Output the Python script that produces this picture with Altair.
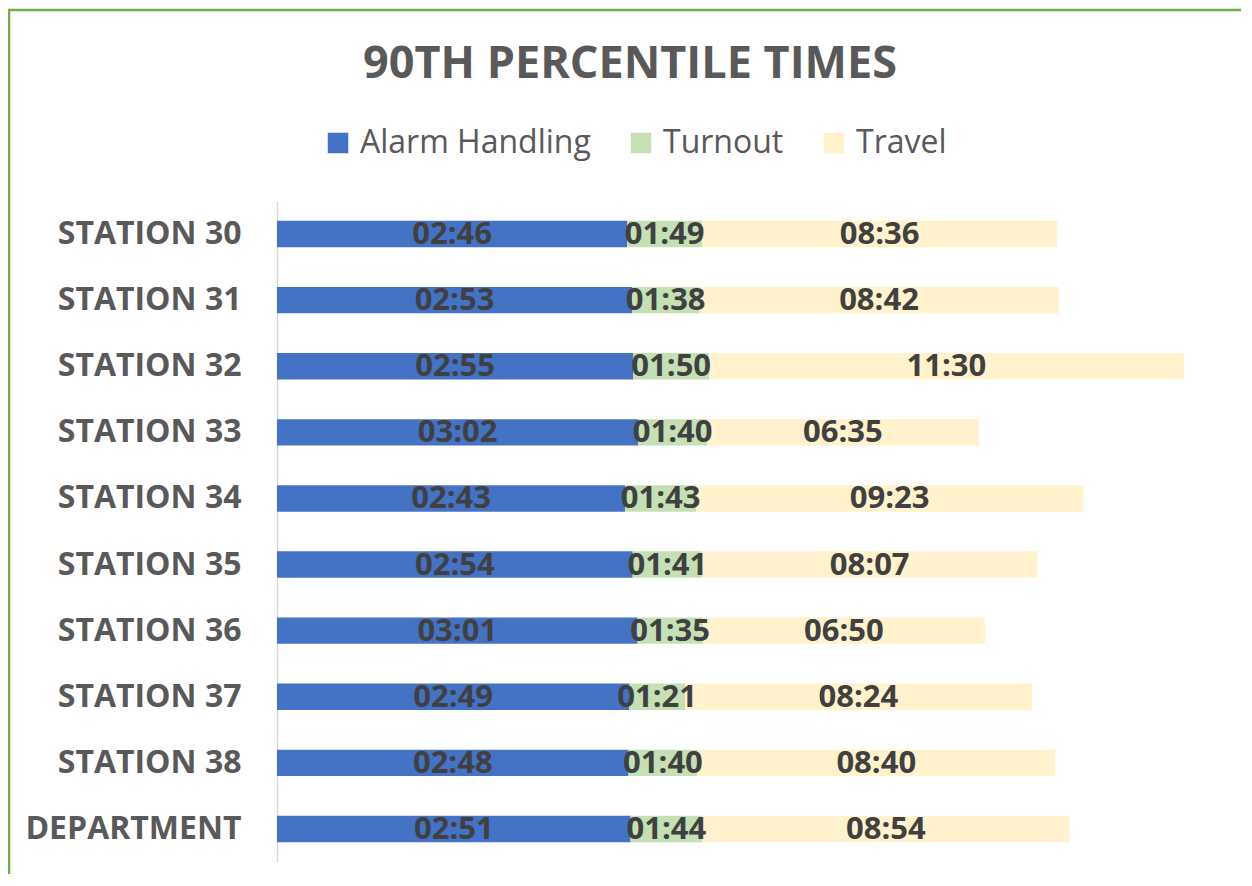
import altair as alt
import pandas as pd

# ---- data ----
title_text = "90TH PERCENTILE TIMES"
stations = ["STATION 30", "STATION 31", "STATION 32", "STATION 33", "STATION 34",
            "STATION 35", "STATION 36", "STATION 37", "STATION 38", "DEPARTMENT"]
alarm_handling = ["02:46", "02:53", "02:55", "03:02", "02:43", "02:54", "03:01", "02:49", "02:48", "02:51"]
turnout = ["01:49", "01:38", "01:50", "01:40", "01:43", "01:41", "01:35", "01:21", "01:40", "01:44"]
travel = ["08:36", "08:42", "11:30", "06:35", "09:23", "08:07", "06:50", "08:24", "08:40", "08:54"]
series = ["Alarm Handling", "Turnout", "Travel"]
colors = ["#4472C4", "#C5E0B4", "#FFF2CC"]

# horizontal axis (seconds) as it is set in the reference: it starts below zero
AXIS_MIN = -343
AXIS_MAX = 1000


def secs(t):
    m, s = t.split(":")
    return int(m) * 60 + int(s)


rows = []
for i, st in enumerate(stations):
    a, tu, tr = secs(alarm_handling[i]), secs(turnout[i]), secs(travel[i])
    segs = [
        ("Alarm Handling", AXIS_MIN, a, alarm_handling[i]),
        ("Turnout", a, a + tu, turnout[i]),
        ("Travel", a + tu, a + tu + tr, travel[i]),
    ]
    for k, (name, s0, s1, lab) in enumerate(segs):
        rows.append({"station": st, "series": name, "order": k,
                     "start": s0, "end": s1, "mid": (s0 + s1) / 2, "label": lab})
df = pd.DataFrame(rows)

FONT = "Open Sans"
W, H = 924, 661

xscale = alt.Scale(domain=[AXIS_MIN, AXIS_MAX], nice=False, zero=False)
yscale = alt.Scale(domain=stations, paddingInner=0.6, paddingOuter=0.3)

bars = alt.Chart(df).mark_bar().encode(
    x=alt.X("start:Q", scale=xscale, axis=None),
    x2="end:Q",
    y=alt.Y("station:N", scale=yscale, sort=stations,
            axis=alt.Axis(title=None, ticks=False, labelFont=FONT, labelFontWeight="bold",
                          labelFontSize=32, labelColor="#595959", labelPadding=36,
                          labelLimit=500,
                          domainColor="#D9D9D9", domainWidth=1.5, grid=False)),
    color=alt.Color("series:N", scale=alt.Scale(domain=series, range=colors),
                    legend=alt.Legend(title=None, orient="none", direction="horizontal",
                                      legendX=45, legendY=-74, symbolType="square",
                                      symbolSize=420, symbolStrokeWidth=0,
                                      labelFont=FONT, labelFontSize=32, labelColor="#595959",
                                      labelLimit=500,
                                      labelOffset=6, columnPadding=34, padding=0)),
    order="order:Q",
)

labels = alt.Chart(df).mark_text(font=FONT, fontWeight="bold", fontSize=31,
                                 color="#404040", baseline="middle", align="center", dy=1).encode(
    x=alt.X("mid:Q", scale=xscale),
    y=alt.Y("station:N", scale=yscale, sort=stations),
    text="label:N",
)

title = alt.Chart(alt.Data(values=[{"t": title_text}])).mark_text(
    font=FONT, fontWeight="bold", fontSize=45, color="#595959",
    align="center", baseline="alphabetic").encode(
    x=alt.value(353), y=alt.value(-123), text="t:N")

border_left = alt.Chart(alt.Data(values=[{}])).mark_rule(color="#70AD47", strokeWidth=2.5).encode(
    x=alt.value(-268), y=alt.value(-192), y2=alt.value(H + 20))
border_top = alt.Chart(alt.Data(values=[{}])).mark_rule(color="#70AD47", strokeWidth=2.5).encode(
    x=alt.value(-269), x2=alt.value(W + 60), y=alt.value(-191))

chart = alt.layer(bars, labels, title, border_left, border_top).properties(
    width=W, height=H,
    autosize=alt.AutoSizeParams(type="none"),
    padding={"left": 269, "top": 193, "right": 40, "bottom": 12},
).configure(background="white").configure_view(strokeWidth=0, stroke="transparent")

chart.save("out.html", embed_options={"renderer": "svg", "actions": False})
